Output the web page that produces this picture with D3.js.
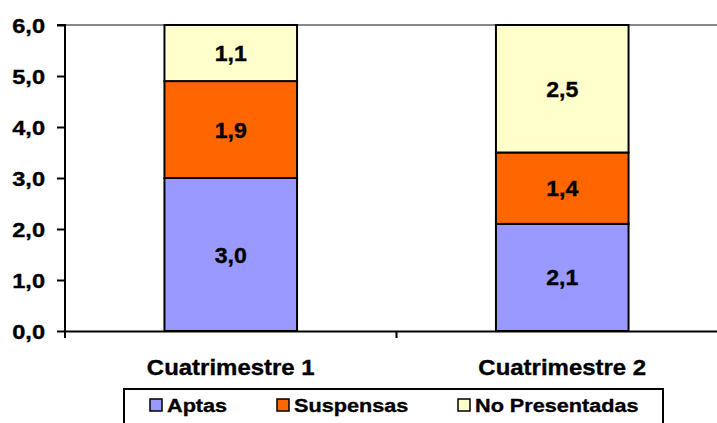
<!DOCTYPE html>
<html>
<head>
<meta charset="utf-8">
<script src="https://cdn.jsdelivr.net/npm/d3@7"></script>
<style>
  html, body { margin: 0; padding: 0; background: #fff; }
  svg { display: block; font-family: "Liberation Sans", Arial, sans-serif; font-weight: bold; }
  svg text { stroke: #000; stroke-width: 0.35px; }
</style>
</head>
<body>
<svg id="chart" width="717" height="423"></svg>
<script>
// Categories and stacked series (values per cuatrimestre)
const categories = ["Cuatrimestre 1", "Cuatrimestre 2"];
const seriesNames = ["Aptas", "Suspensas", "No Presentadas"];
const aptas = [3.0, 2.1];
const suspensas = [1.9, 1.4];
const noPresentadas = [1.1, 2.5];
const yTicks = [0, 1, 2, 3, 4, 5, 6];
const colors = ["#9999FF", "#FF6600", "#FFFFCC"];

const svg = d3.select("#chart");
const fmt = v => d3.format(".1f")(v).replace(".", ",");
const FONT = "Liberation Sans, Arial, sans-serif";

// Widen text horizontally around its anchor point
function stretch(sel, s) {
  sel.each(function () {
    const t = d3.select(this);
    const x = +t.attr("x") || 0, y = +t.attr("y") || 0;
    t.attr("x", 0).attr("y", 0).attr("transform", `translate(${x},${y}) scale(${s},1)`);
  });
}

const plot = { left: 65, right: 728, top: 25, bottom: 331 };

const x = d3.scaleBand().domain(categories).range([plot.left, plot.right]).padding(0);
const y = d3.scaleLinear().domain([0, 6]).range([plot.bottom, plot.top]);

const rows = categories.map((c, i) => ({
  cat: c, Aptas: aptas[i], Suspensas: suspensas[i], "No Presentadas": noPresentadas[i]
}));
const stacked = d3.stack().keys(seriesNames)(rows);

// Plot area top border
svg.append("line")
  .attr("x1", plot.left).attr("x2", plot.right)
  .attr("y1", y(6)).attr("y2", y(6))
  .attr("stroke", "#888").attr("stroke-width", 2);

// Bars with value labels
const barW = x.bandwidth() * 0.4;
stacked.forEach((layer, si) => {
  svg.append("g").selectAll("rect").data(layer).join("rect")
    .attr("x", d => x(d.data.cat) + (x.bandwidth() - barW) / 2)
    .attr("y", d => y(d[1]))
    .attr("width", barW)
    .attr("height", d => y(d[0]) - y(d[1]))
    .attr("fill", colors[si])
    .attr("stroke", "#000").attr("stroke-width", 2);
  const labels = svg.append("g").selectAll("text").data(layer).join("text")
    .attr("x", d => x(d.data.cat) + x.bandwidth() / 2)
    .attr("y", d => (y(d[0]) + y(d[1])) / 2 + 8)
    .attr("text-anchor", "middle")
    .attr("font-size", 22)
    .text(d => fmt(d[1] - d[0]));
  stretch(labels, 1.05);
});

// Y axis
const yAxis = d3.axisLeft(y).tickValues(yTicks).tickFormat(fmt).tickSize(8).tickPadding(12);
const gy = svg.append("g").attr("transform", `translate(${plot.left},0)`).call(yAxis);
gy.select(".domain").attr("stroke", "#000").attr("stroke-width", 2).attr("d", `M-8,${y(6)}H0V${y(0)}`);
gy.selectAll(".tick line").attr("stroke", "#000").attr("stroke-width", 2);
gy.selectAll(".tick text").attr("font-size", 20).attr("font-weight", "bold")
  .attr("font-family", FONT).attr("fill", "#000").attr("dy", null).attr("y", 7);
stretch(gy.selectAll(".tick text"), 1.18);

// X axis
const xAxis = d3.axisBottom(x).tickSize(0).tickPadding(0);
const gx = svg.append("g").attr("transform", `translate(0,${plot.bottom})`).call(xAxis);
gx.select(".domain").attr("stroke", "#000").attr("stroke-width", 2);
gx.selectAll(".tick text").attr("font-size", 22).attr("font-weight", "bold")
  .attr("font-family", FONT).attr("fill", "#000").attr("dy", null).attr("y", 44);
stretch(gx.selectAll(".tick text"), 1.09);
// Category separator ticks
svg.append("g").selectAll("line").data(categories).join("line")
  .attr("x1", d => x(d)).attr("x2", d => x(d))
  .attr("y1", plot.bottom).attr("y2", plot.bottom + 7)
  .attr("stroke", "#000").attr("stroke-width", 2);

// Legend
const legend = svg.append("g");
legend.append("rect")
  .attr("x", 124).attr("y", 389).attr("width", 539).attr("height", 40)
  .attr("fill", "#fff").attr("stroke", "#000").attr("stroke-width", 2);
const legendX = [150, 277, 458];
seriesNames.forEach((name, i) => {
  legend.append("rect")
    .attr("x", legendX[i]).attr("y", 399).attr("width", 12).attr("height", 12)
    .attr("fill", colors[i]).attr("stroke", "#000").attr("stroke-width", 1.5);
  const t = legend.append("text")
    .attr("x", legendX[i] + 17).attr("y", 412)
    .attr("font-size", 19)
    .text(name);
  stretch(t, 1.14);
});
</script>
</body>
</html>
